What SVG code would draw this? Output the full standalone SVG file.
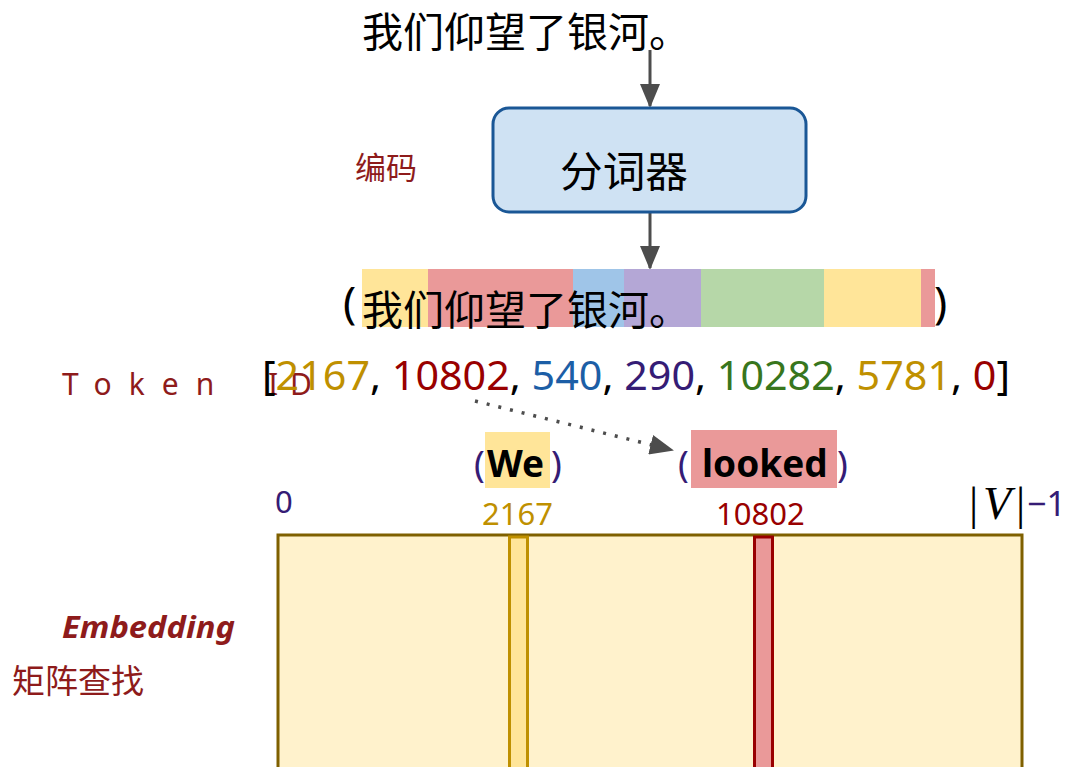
<svg xmlns="http://www.w3.org/2000/svg" width="1069" height="767" viewBox="0 0 1069 767">
<defs>
<style>
.cjk{font-family:"Noto Sans CJK SC","Noto Sans",sans-serif;}
.lat{font-family:"Noto Sans","Liberation Sans",sans-serif;}
.red{fill:#8e1b1b;}
</style>
<marker id="ah2" markerWidth="24" markerHeight="20" refX="22" refY="10" orient="auto" markerUnits="userSpaceOnUse" viewBox="0 0 24 20">
<path d="M0,0 L24,10 L0,20 Z" fill="#4d4d4d"/>
</marker>
</defs>

<g id="sentence">
<text class="cjk" x="362" y="47" font-size="41" textLength="328" lengthAdjust="spacingAndGlyphs" fill="#000">我们仰望了银河。</text>
</g>

<g id="connectors">
<line x1="650" y1="50" x2="650" y2="106" stroke="#4d4d4d" stroke-width="3" marker-end="url(#ah2)"/>
<line x1="650" y1="213" x2="650" y2="268" stroke="#4d4d4d" stroke-width="3" marker-end="url(#ah2)"/>
<path d="M475,401 L672,450" stroke="#4d4d4d" stroke-width="3.5" stroke-dasharray="3 9" fill="none" marker-end="url(#ah2)"/>
</g>

<g id="tokenizer">
<rect x="493" y="108" width="313" height="104" rx="16" fill="#cfe2f3" stroke="#1a5796" stroke-width="3"/>
<text class="cjk" x="560" y="187" font-size="42" textLength="128" lengthAdjust="spacingAndGlyphs" fill="#000">分词器</text>
</g>

<g id="encode-label">
<text class="cjk red" x="355" y="179" font-size="31">编码</text>
</g>

<g id="tokens">
<rect x="362" y="269" width="66" height="58" fill="#ffe599"/>
<rect x="428" y="269" width="145" height="58" fill="#ea9999"/>
<rect x="573" y="269" width="51" height="58" fill="#9fc5e8"/>
<rect x="624" y="269" width="77" height="58" fill="#b4a7d6"/>
<rect x="701" y="269" width="123" height="58" fill="#b6d7a8"/>
<rect x="824" y="269" width="97" height="58" fill="#ffe599"/>
<rect x="921" y="269" width="14" height="58" fill="#ea9999"/>
<text class="lat" x="343" y="318" font-size="44" fill="#000">(</text>
<text class="cjk" x="362" y="325" font-size="41" textLength="328" lengthAdjust="spacingAndGlyphs" fill="#000">我们仰望了银河。</text>
<text class="lat" x="934" y="318" font-size="44" fill="#000">)</text>
</g>

<g id="token-id-label">
<text class="lat red" x="62" y="395" font-size="30" letter-spacing="17">Token<tspan x="268">I</tspan><tspan x="290" letter-spacing="0">D</tspan></text>
</g>

<g id="token-ids">
<text class="lat" x="262" y="390" font-size="40" textLength="748" lengthAdjust="spacingAndGlyphs" fill="#000">[<tspan fill="#bf9000">2167</tspan>, <tspan fill="#990000">10802</tspan>, <tspan fill="#1c5ea6">540</tspan>, <tspan fill="#351c75">290</tspan>, <tspan fill="#38761d">10282</tspan>, <tspan fill="#bf9000">5781</tspan>, <tspan fill="#990000">0</tspan>]</text>
</g>

<g id="we">
<rect x="485" y="432" width="65" height="56" fill="#ffe599"/>
<text class="lat" x="474" y="477" font-size="36" fill="#351c75">(</text>
<text class="lat" x="487" y="477" font-size="37" font-weight="bold" fill="#000">We</text>
<text class="lat" x="551" y="477" font-size="36" fill="#351c75">)</text>
<text class="lat" x="482" y="525" font-size="31" fill="#bf9000">2167</text>
</g>

<g id="looked">
<rect x="691" y="430" width="146" height="58" fill="#ea9999"/>
<text class="lat" x="678" y="477" font-size="36" fill="#351c75">(</text>
<text class="lat" x="702" y="477" font-size="37" font-weight="bold" fill="#000">looked</text>
<text class="lat" x="837" y="477" font-size="36" fill="#351c75">)</text>
<text class="lat" x="716" y="525" font-size="31" fill="#990000">10802</text>
</g>

<g id="axis-labels">
<text class="lat" x="275" y="513" font-size="31" fill="#351c75">0</text>
<text x="969" y="519" font-size="46" font-family="Liberation Serif,serif" fill="#000">|<tspan x="983" font-style="italic">V</tspan><tspan x="1016">|</tspan></text>
<text class="lat" x="1027" y="516" font-size="34" textLength="39" lengthAdjust="spacingAndGlyphs" fill="#351c75">−1</text>
</g>

<g id="embedding-matrix">
<rect x="278" y="535" width="744" height="240" fill="#fff2cc" stroke="#7f6000" stroke-width="3"/>
<rect x="509.5" y="537" width="18" height="240" fill="#ffe599" stroke="#bf9000" stroke-width="3"/>
<rect x="754.5" y="537" width="18" height="240" fill="#ea9999" stroke="#990000" stroke-width="3"/>
</g>

<g id="embedding-label">
<text class="lat red" x="62" y="638" font-size="30" font-weight="bold" font-style="italic" textLength="173" lengthAdjust="spacingAndGlyphs">Embedding</text>
<text class="cjk red" x="12" y="693" font-size="33">矩阵查找</text>
</g>
</svg>
